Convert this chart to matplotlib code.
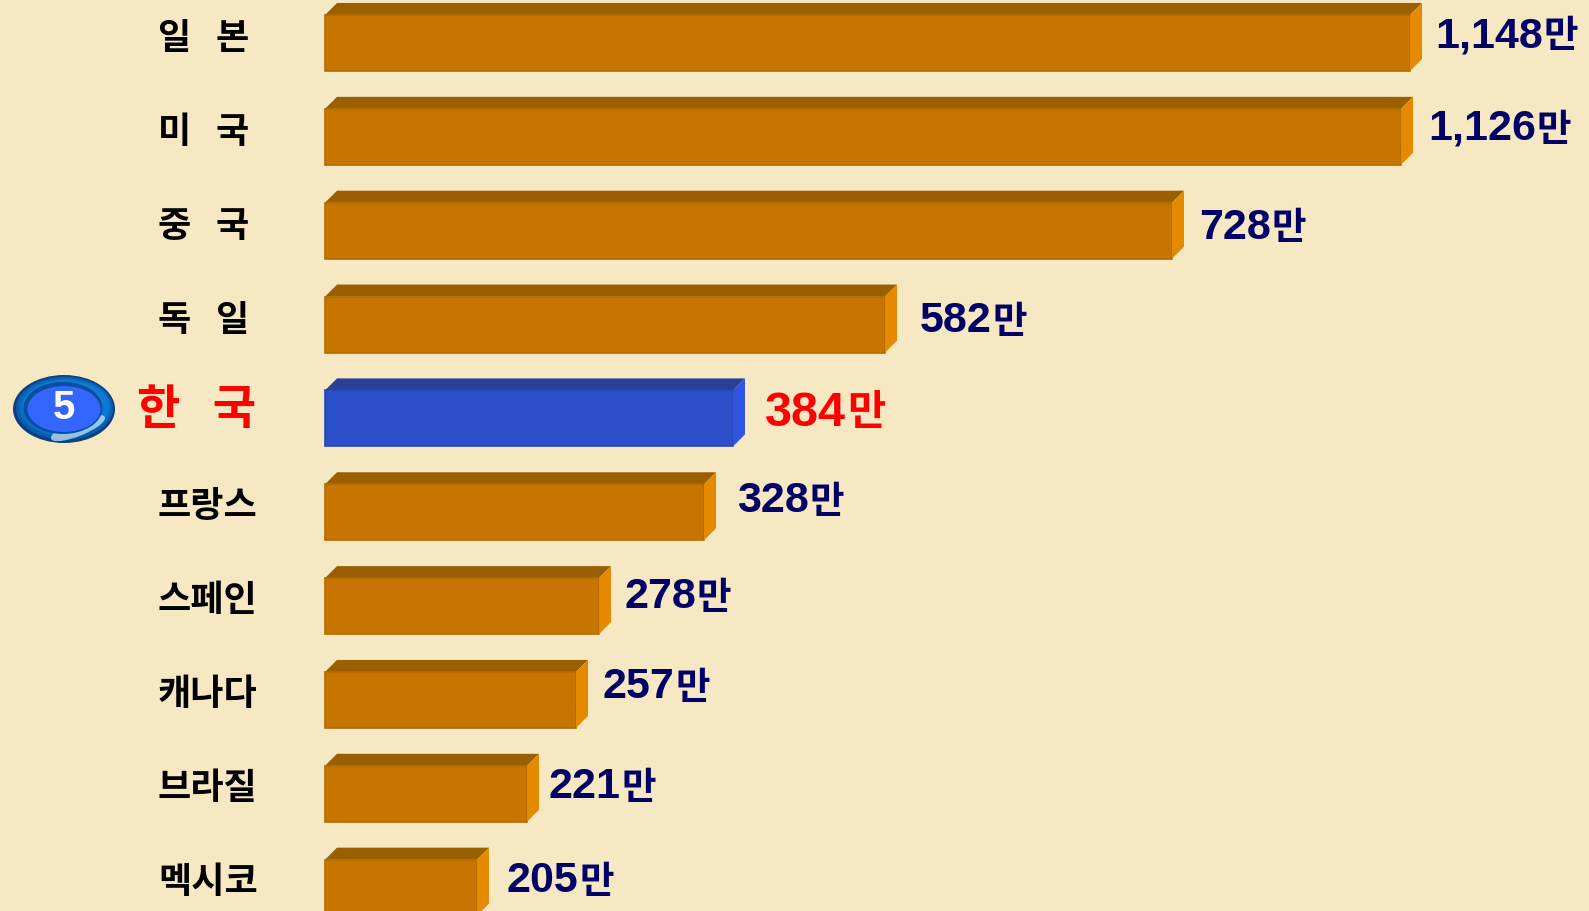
import numpy as np
import matplotlib
matplotlib.use('Agg')
import matplotlib.pyplot as plt
from matplotlib.patches import Ellipse, Polygon

countries = ['일   본', '미   국', '중   국', '독   일', '한   국',
             '프랑스', '스페인', '캐나다', '브라질', '멕시코']
value_labels = ['1,148', '1,126', '728', '582', '384', '328', '278', '257', '221', '205']
# drawn bar lengths, the picture is not to scale with the labels
bar_lengths = [1085, 1076, 847, 560, 408, 379, 274, 251, 202, 152]
highlight = 4

# where the labels sit in the picture
label_x = [1435, 1428, 1199, 920, 765, 737, 624, 603, 549, 507]
label_y = [36, 129, 228, 321, 413, 501, 597, 687, 787, 881]
name_y = [38, 132, 226, 320, 410, 507, 600, 695, 789, 882]

BG = '#f7e8c4'
DEPTH = 12
KR = ['Noto Sans CJK KR', 'DejaVu Sans']
NARROW = ['Liberation Sans Narrow', 'Liberation Sans']

fig = plt.figure(figsize=(15.89, 9.11), dpi=100, facecolor=BG)
ax = fig.add_axes([0, 0, 1, 1], facecolor='none')
ax.set_xlim(-325, 1264)
row_h = 93.85
ax.set_ylim((911 - 43) / row_h, -43 / row_h)
ax.axis('off')

over = fig.add_axes([0, 0, 1, 1], facecolor='none')
over.set_xlim(0, 1589)
over.set_ylim(911, 0)
over.axis('off')

dy = DEPTH / row_h
half = 28 / row_h
for i, length in enumerate(bar_lengths):
    if i == highlight:
        front, top, side, edge = '#2a4fc8', '#28409a', '#2f55e0', '#2546b4'
    else:
        front, top, side, edge = '#c57500', '#9a5f00', '#e58a00', '#b36b00'
    ax.barh(i, length, height=half * 2, color=front, edgecolor=edge, linewidth=1.2, zorder=3)
    ax.add_patch(Polygon([(0, i - half), (DEPTH, i - half - dy), (length + DEPTH, i - half - dy),
                          (length, i - half)], facecolor=top, edgecolor='none', zorder=2))
    ax.add_patch(Polygon([(length, i - half), (length + DEPTH, i - half - dy),
                          (length + DEPTH, i + half - dy), (length, i + half)],
                         facecolor=side, edgecolor='none', zorder=4))

    hl = i == highlight
    over.text(137 if hl else 158, name_y[i], countries[i], family=KR, weight='bold',
              fontsize=34 if hl else 26, color='#ff0000' if hl else '#000000',
              ha='left', va='center')

    col = '#ff0000' if hl else '#000066'
    num = over.text(label_x[i], label_y[i], value_labels[i], family=NARROW, weight='bold',
                    fontsize=35 if hl else 31, color=col, ha='left', va='center')
    fig.canvas.draw()
    box = num.get_window_extent()
    over.text(box.x1 + 1, label_y[i], '만', family=KR, weight='bold',
              fontsize=30 if hl else 27, color=col, ha='left', va='center')

# rank badge
cx, cy = 64, 409
shades = ['#0b3f80', '#0a5cab', '#0b6cc4', '#0f78d0']
for k, c in enumerate(shades):
    over.add_patch(Ellipse((cx + k * 0.6, cy - k * 0.8), 102 - k * 5, 68 - k * 5,
                           facecolor=c, edgecolor='none', zorder=5))
over.add_patch(Ellipse((cx + 14, cy + 19), 58, 16, angle=-22, facecolor='#bfe2f7',
                       edgecolor='none', alpha=0.75, zorder=5))
over.add_patch(Ellipse((cx - 1, cy - 1), 79, 52, facecolor='#0a4f9c', edgecolor='none', zorder=6))
over.add_patch(Ellipse((cx, cy), 73, 46, facecolor='#3366ff', edgecolor='none', zorder=7))
over.text(cx, cy - 1, '5', family=NARROW, weight='bold', fontsize=29, color='white',
          ha='center', va='center', zorder=8)

fig.savefig('out.png', dpi=100, facecolor=BG)
